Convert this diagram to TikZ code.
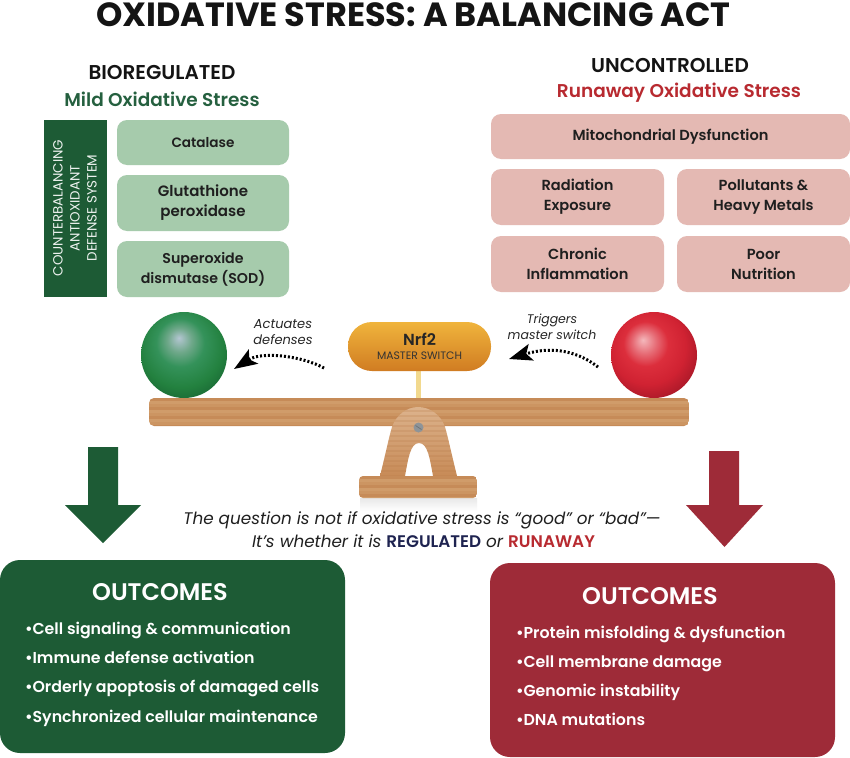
\documentclass[tikz,border=0pt]{standalone}
\usepackage{fontspec}
\setmainfont{Poppins}[BoldFont={Poppins SemiBold},ItalicFont={Poppins Italic},BoldItalicFont={Poppins SemiBold Italic}]
\newfontfamily\heavy{Poppins Bold}
\usetikzlibrary{arrows.meta,calc}

\definecolor{forest}{HTML}{1D5B35}
\definecolor{mildtxt}{HTML}{25603F}
\definecolor{sage}{HTML}{A6CBAC}
\definecolor{blush}{HTML}{E4B9B3}
\definecolor{crimson}{HTML}{9E2B38}
\definecolor{runred}{HTML}{B82A30}
\definecolor{navyword}{HTML}{1E2350}
\definecolor{woodA}{HTML}{CC9562}
\definecolor{woodB}{HTML}{C68B58}
\definecolor{woodC}{HTML}{D09C6A}
\definecolor{pivtop}{HTML}{DDB48E}
\definecolor{pivbot}{HTML}{C78A56}
\definecolor{grain}{HTML}{B87A48}
\definecolor{stemcol}{HTML}{F2D98E}
\definecolor{screwcol}{HTML}{8E9498}
\definecolor{slotcol}{HTML}{6F7478}
\definecolor{pilltop}{HTML}{F0B43C}
\definecolor{pillbot}{HTML}{D07C22}

\definecolor{gA}{HTML}{B4C6D2}\definecolor{gB}{HTML}{6FA88A}\definecolor{gC}{HTML}{34925A}
\definecolor{gD}{HTML}{23813F}\definecolor{gE}{HTML}{1A6A35}\definecolor{gF}{HTML}{134A2A}
\definecolor{rA}{HTML}{F4B8BC}\definecolor{rB}{HTML}{E66A74}\definecolor{rC}{HTML}{DC2E3C}
\definecolor{rD}{HTML}{D02232}\definecolor{rE}{HTML}{B01A2A}\definecolor{rF}{HTML}{6A0E1A}\definecolor{rG}{HTML}{2E060C}

% Highlight sits up and to the left; the sphere rim lies 25bp from the shading centre
\pgfdeclareradialshading{greenball}{\pgfpoint{-3bp}{10bp}}{
  color(0bp)=(gA); color(7bp)=(gB); color(14bp)=(gC);
  color(24bp)=(gD); color(31bp)=(gE); color(37bp)=(gF); color(50bp)=(gF)}
\pgfdeclareradialshading{redball}{\pgfpoint{-6.5bp}{8.8bp}}{
  color(0bp)=(rA); color(7bp)=(rB); color(13bp)=(rC);
  color(22bp)=(rD); color(29bp)=(rE); color(35bp)=(rF); color(40bp)=(rG); color(50bp)=(rG)}

\tikzset{
  x=1pt, y=-1pt,
  every node/.style={inner sep=0pt, outer sep=0pt},
  maintitle/.style={font=\heavy\fontsize{33.5}{34}\selectfont, text=black!92},
  headline/.style={font=\bfseries\fontsize{20}{22}\selectfont, text=black!92},
  subhead/.style={font=\bfseries\fontsize{18.5}{20}\selectfont},
  enzyme/.style={fill=sage, rounded corners=10pt, align=center, font=\bfseries\fontsize{15}{20}\selectfont, text=black!88},
  damage/.style={fill=blush, rounded corners=10pt, align=center, font=\bfseries\fontsize{14.6}{20}\selectfont, text=black!88},
  panel/.style={rounded corners=20pt},
  outhead/.style={font=\bfseries\fontsize{24}{26}\selectfont, text=white},
  outitem/.style={anchor=base west, font=\bfseries\fontsize{15.8}{18}\selectfont, text=white},
  note/.style={align=center, font=\itshape\fontsize{13}{16}\selectfont, text=black!85},
  swoosh/.style={line width=3pt, dash pattern=on 2pt off 2pt,
    -{Stealth[length=23pt,width=17pt,inset=5pt]}, black},
  remark/.style={font=\itshape\fontsize{16.8}{20}\selectfont, text=black!88},
}

% Wooden planks are horizontal colour bands clipped to the plank outline
\newcommand{\planks}[7]{%
  \foreach \yy [count=\ii] in {#3,#4,...,#5} {
    \pgfmathtruncatemacro{\kk}{mod(\ii,3)}
    \ifnum\kk=0 \def\cc{#6A}\else\ifnum\kk=1 \def\cc{#6B}\else\def\cc{#6C}\fi\fi
    \fill[\cc] (#1,\yy) rectangle (#2,\yy+#7);
  }%
}

\begin{document}
\begin{tikzpicture}
\useasboundingbox (0,0) rectangle (850,757);
\fill[white] (0,0) rectangle (850,757);

\node[maintitle] (title) at (413.5,15) {OXIDATIVE STRESS: A BALANCING ACT};

% Left column
\node[headline] (bio) at (162,72) {BIOREGULATED};
\node[subhead, text=mildtxt] (mild) at (162,99) {Mild Oxidative Stress};
\fill[forest] (44,120) rectangle (107,297);
\node[rotate=90, align=center, text=white!92!forest, font=\fontsize{13.4}{17}\selectfont] (counter) at (75,208)
  {COUNTERBALANCING\\ANTIOXIDANT\\DEFENSE SYSTEM};
\node[enzyme, minimum width=172pt, minimum height=45pt, font=\bfseries\fontsize{13.6}{20}\selectfont] (cat) at (203,142.5) {Catalase};
\node[enzyme, minimum width=172pt, minimum height=56pt] (glu) at (203,203) {Glutathione\\peroxidase};
\node[enzyme, minimum width=172pt, minimum height=56pt, font=\bfseries\fontsize{14.2}{20}\selectfont] (sod) at (203,269) {Superoxide\\dismutase (SOD)};

% Right column
\node[headline] (unc) at (670,65) {UNCONTROLLED};
\node[subhead, text=runred] (run) at (679,93) {Runaway Oxidative Stress};
\node[damage, minimum width=359pt, minimum height=45pt] (mito) at (670.5,136.5) {Mitochondrial Dysfunction};
\node[damage, minimum width=173pt, minimum height=56pt] (rad) at (577.5,197) {Radiation\\Exposure};
\node[damage, minimum width=173pt, minimum height=56pt] (pol) at (763.5,197) {Pollutants \&\\Heavy Metals};
\node[damage, minimum width=173pt, minimum height=56pt] (chr) at (577.5,264) {Chronic\\Inflammation};
\node[damage, minimum width=173pt, minimum height=56pt] (poor) at (763.5,264) {Poor\\Nutrition};

% Stem between the switch and the beam
\fill[stemcol] (416,371) rectangle (421,398);

% Beam
\begin{scope}
  \clip[rounded corners=5pt] (149,398) rectangle (689,426);
  \planks{149}{689}{398}{401}{426}{wood}{3.2}
\end{scope}

% Pivot with its arched opening: lighter wood that darkens towards the foot
\begin{scope}
  \clip (380,476) .. controls (386,452) and (389,437) .. (392,427)
        .. controls (396,415) and (407,407) .. (418,407)
        .. controls (430,407) and (441,415) .. (445,427)
        .. controls (448,437) and (451,452) .. (457,476)
        -- (433,476) .. controls (430,460) and (428,443) .. (419,443)
        .. controls (410,443) and (408,460) .. (405,476) -- cycle;
  \shade[top color=pivtop, bottom color=pivbot] (375,405) rectangle (462,477);
  \foreach \yy in {410,415,...,475} {
    \fill[grain, opacity=0.22] (375,\yy) rectangle (462,\yy+2);
  }
\end{scope}
\fill[screwcol] (418.5,427.5) circle (5pt);
\draw[slotcol, line width=0.8pt] (415.5,425.5) -- (421.5,429.5);

% Foot of the stand
\shade[top color=black!9, bottom color=white] (360,498) rectangle (477,511);
\begin{scope}
  \clip[rounded corners=4pt] (359,476) -- (477,476) -- (477,498) -- (359,498) -- cycle;
  \planks{359}{477}{476}{479}{498}{wood}{3.2}
\end{scope}

% Balls
\node[circle, minimum size=86pt, shading=greenball] (gball) at (184,355) {};
\node[circle, minimum size=86pt, shading=redball] (rball) at (654,355) {};

% Switch
\node[rounded corners=24pt, minimum width=143pt, minimum height=49pt,
      top color=pilltop, bottom color=pillbot] (nrf) at (419.5,346.5) {};
\node[font=\bfseries\fontsize{16}{18}\selectfont, text=black!85] (nrfa) at (419.5,339) {Nrf2};
\node[font=\fontsize{10.8}{12}\selectfont, text=black!80] (nrfb) at (419.5,356) {MASTER SWITCH};

% Curved notes
\node[note] (act) at (283,332) {Actuates\\defenses};
\node[note, font=\itshape\fontsize{12.5}{16}\selectfont] (trig) at (552,327) {Triggers\\master switch};
\coordinate (ltail) at (324,368);
\coordinate (lhead) at (234,369);
\coordinate (rtail) at (598,367);
\coordinate (rhead) at (509,359);
\draw[swoosh] (ltail) .. controls (302,356) and (262,351) .. (lhead);
\draw[swoosh] (rtail) .. controls (580,353) and (555,345) .. (rhead);

% Large arrows
\fill[forest] (88,447) -- (118,447) -- (118,505) -- (141,505) -- (103,543) -- (65,505) -- (88,505) -- cycle;
\fill[crimson] (709,451) -- (739,451) -- (739,505) -- (763,505) -- (724.5,547) -- (686,505) -- (709,505) -- cycle;

% Central statement
\node[remark] (qa) at (422,520)
  {The question is not if oxidative stress is “good” or “bad”—};
\node[remark] (qb) at (423.5,541)
  {It’s whether it is \textcolor{navyword}{\bfseries\upshape REGULATED} or \textcolor{runred}{\bfseries\upshape RUNAWAY}};

% Outcome panels
\fill[forest, panel] (0,560) rectangle (345,753);
\node[outhead] (goodh) at (160,592) {OUTCOMES};
\node[outitem] (g1) at (25,634) {•Cell signaling \& communication};
\node[outitem] (g2) at (25,663) {•Immune defense activation};
\node[outitem] (g3) at (25,692) {•Orderly apoptosis of damaged cells};
\node[outitem] (g4) at (25,722) {•Synchronized cellular maintenance};

\fill[crimson, panel] (490,563) rectangle (835,757);
\node[outhead] (badh) at (650,596) {OUTCOMES};
\node[outitem] (b1) at (516,638) {•Protein misfolding \& dysfunction};
\node[outitem] (b2) at (516,667) {•Cell membrane damage};
\node[outitem] (b3) at (516,696) {•Genomic instability};
\node[outitem] (b4) at (516,725) {•DNA mutations};
\end{tikzpicture}
\end{document}
